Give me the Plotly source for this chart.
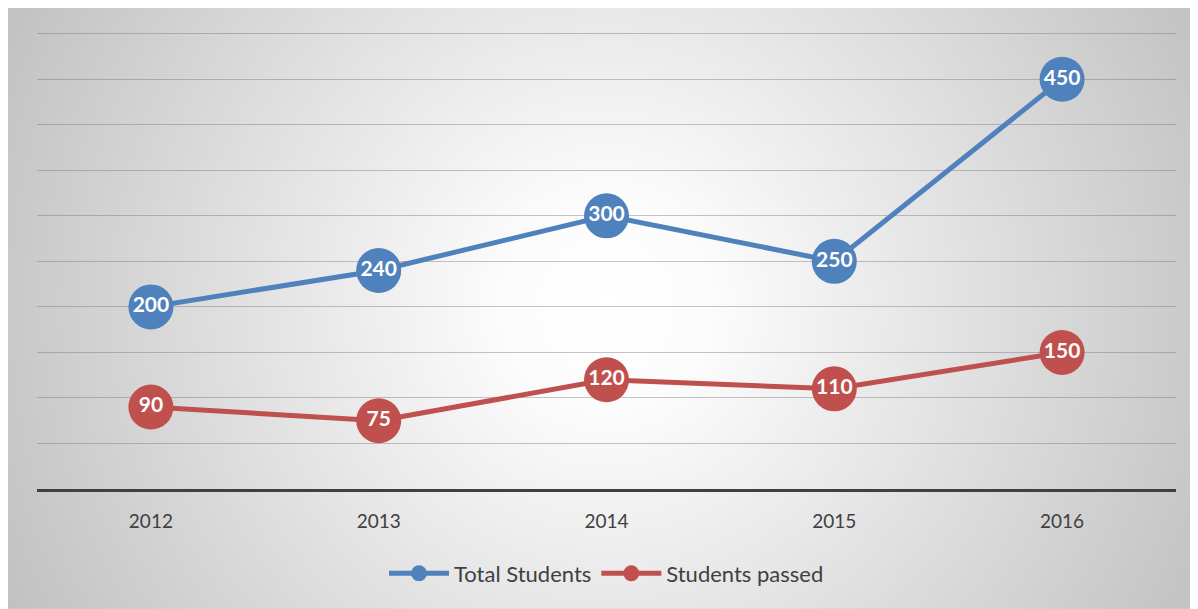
import base64
import plotly.graph_objects as go

years = ["2012", "2013", "2014", "2015", "2016"]
total_students = [200, 240, 300, 250, 450]
students_passed = [90, 75, 120, 110, 150]

OFF = 8  # default page body margin
FW, FH = 1190, 601
YMAX = 503
scale = 454.6 / 500           # px per unit
y0_px = 488.6                 # pixel of value 0 in page
top_px = y0_px - YMAX * scale
pw, ph = 1139, y0_px - top_px
L, T = 37 - OFF, top_px - OFF
R = FW - L - pw
B = FH - T - ph

svg = '''<svg xmlns="http://www.w3.org/2000/svg" width="1191" height="604" viewBox="0 0 1191 604" preserveAspectRatio="none">
<defs><radialGradient id="g" gradientUnits="userSpaceOnUse" cx="600" cy="300" r="680">
<stop offset="0" stop-color="#ffffff"/><stop offset="0.15" stop-color="#fcfcfc"/><stop offset="1" stop-color="#c0c0c0"/></radialGradient></defs>
<rect x="0" y="0" width="1191" height="604" fill="url(#g)" stroke="#cfcfcf" stroke-width="2"/></svg>'''
src = "data:image/svg+xml;base64," + base64.b64encode(svg.encode()).decode()

fig = go.Figure()
for name, vals, col in [("Total Students", total_students, "#4F81BD"),
                        ("Students passed", students_passed, "#C0504D")]:
    fig.add_trace(go.Scatter(
        x=years, y=vals, name=name, mode="lines+markers+text",
        text=[str(v) for v in vals], textposition="middle center",
        textfont=dict(family="Lato, Open Sans, sans-serif", size=21, color="white", weight="bold"),
        line=dict(color=col, width=5),
        marker=dict(size=45, color=col, line=dict(width=0)),
        cliponaxis=False,
    ))

fig.add_layout_image(dict(
    source=src, xref="paper", yref="paper",
    x=-(37 - 7) / pw, y=1 + (top_px - 5) / ph,
    sizex=1191 / pw, sizey=604 / ph,
    xanchor="left", yanchor="top", sizing="stretch", layer="below",
))

fig.update_layout(
    width=FW, height=FH,
    margin=dict(l=L, r=R, t=T, b=B),
    paper_bgcolor="white", plot_bgcolor="rgba(0,0,0,0)",
    font=dict(family="Lato, Open Sans, sans-serif", color="#404040"),
    showlegend=True,
    legend=dict(orientation="h", x=0.5, xanchor="center", y=-(573 - y0_px) / ph, yanchor="middle",
                font=dict(size=22, color="#404040"), bgcolor="rgba(0,0,0,0)",
                itemwidth=60, traceorder="normal"),
    xaxis=dict(type="category", range=[-0.5, 4.5], showgrid=False,
               showline=True, linecolor="#404040", linewidth=3,
               ticks="", ticklabelstandoff=13, tickfont=dict(size=19, color="#404040")),
    yaxis=dict(range=[0, YMAX], dtick=50, showgrid=True, gridcolor="rgba(110,110,110,0.4)",
               gridwidth=1, zeroline=False, showticklabels=False, showline=False),
)

fig.write_html("out.html")
